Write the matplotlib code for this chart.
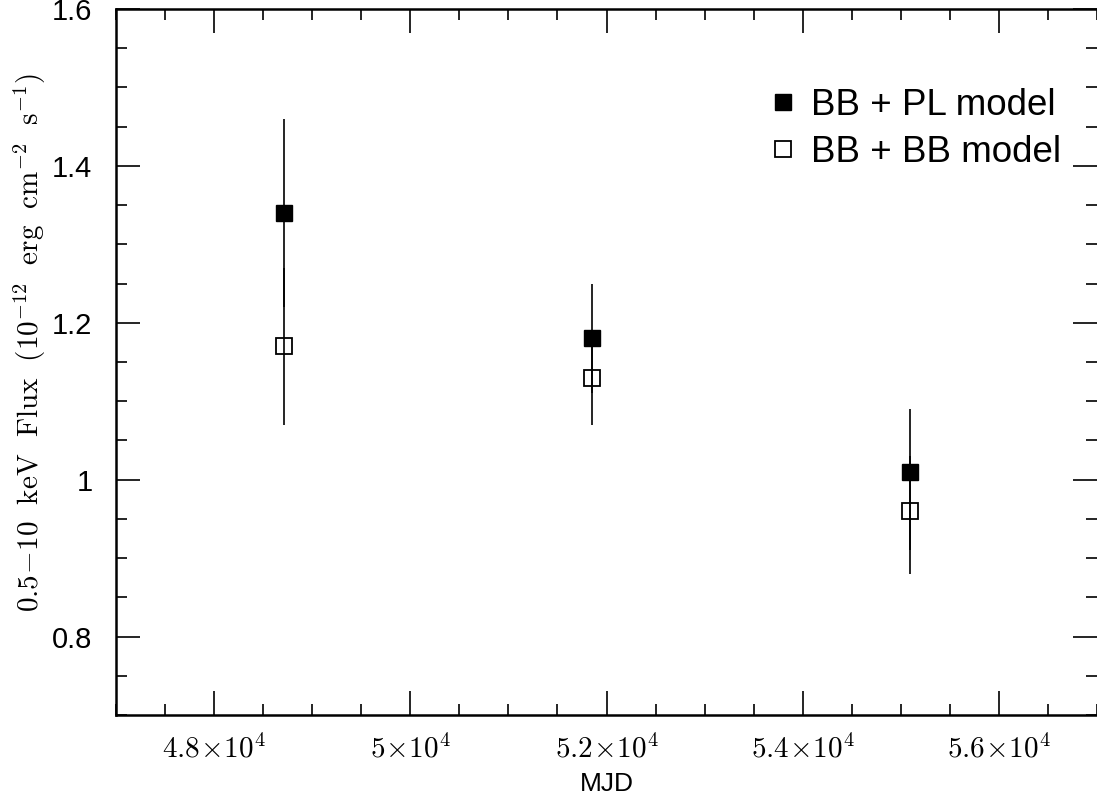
import matplotlib
matplotlib.use("Agg")
import matplotlib.pyplot as plt
from matplotlib.ticker import MultipleLocator, FuncFormatter

plt.rcParams['mathtext.fontset'] = 'cm'

mjd = [48710, 51855, 55090]
flux_bbpl = [1.34, 1.18, 1.01]
err_lo_bbpl = [0.12, 0.07, 0.10]
err_hi_bbpl = [0.12, 0.07, 0.08]
flux_bbbb = [1.17, 1.13, 0.96]
err_lo_bbbb = [0.10, 0.06, 0.08]
err_hi_bbbb = [0.10, 0.05, 0.07]

fig = plt.figure(figsize=(10.97, 8.01), dpi=100)
ax = fig.add_axes([116/1097, 1-715/801, 981/1097, (715-9)/801])

ax.errorbar(mjd, flux_bbpl, yerr=[err_lo_bbpl, err_hi_bbpl], fmt='none',
            ecolor='black', elinewidth=1.2, capsize=0)
ax.errorbar(mjd, flux_bbbb, yerr=[err_lo_bbbb, err_hi_bbbb], fmt='none',
            ecolor='black', elinewidth=1.2, capsize=0)
ax.plot(mjd, flux_bbpl, 's', color='black', markersize=12, label='BB + PL model', zorder=3)
ax.plot(mjd, flux_bbbb, 's', markerfacecolor='none', markeredgecolor='black',
        markeredgewidth=1.3, markersize=12, label='BB + BB model', zorder=3)

ax.set_xlim(47000, 57000)
ax.set_ylim(0.7, 1.6)
ax.xaxis.set_major_locator(MultipleLocator(2000))
ax.xaxis.set_minor_locator(MultipleLocator(500))
ax.yaxis.set_major_locator(MultipleLocator(0.2))
ax.yaxis.set_minor_locator(MultipleLocator(0.05))

def xfmt(v, pos):
    m = v / 1e4
    s = ('%g' % m)
    return r'$\mathrm{%s}\!\times\!\mathrm{10}^{4}$' % s
ax.xaxis.set_major_formatter(FuncFormatter(xfmt))
ax.yaxis.set_major_formatter(FuncFormatter(lambda v, p: '%g' % round(v, 2)))

ax.tick_params(which='both', direction='in', top=True, right=True, width=1.2)
ax.tick_params(which='major', length=17)
ax.tick_params(which='minor', length=8)
ax.tick_params(axis='x', labelsize=21, pad=14)
ax.tick_params(axis='y', labelsize=21, pad=17)
for lbl in ax.get_yticklabels():
    lbl.set_family('Liberation Sans')

for s in ['left', 'bottom', 'top']:
    ax.spines[s].set_linewidth(1.8)
ax.spines['right'].set_visible(False)

ax.set_xlabel('MJD', fontsize=19, family='Liberation Sans', labelpad=6)
ax.set_ylabel(r'$\mathrm{0.5\!-\!10\ \ keV\ \ Flux\ \ (10^{-12}\ \ erg\ \ cm^{-2}\ \ s^{-1})}$',
              fontsize=21)
ax.yaxis.set_label_coords(-0.069, 0.528)

leg = ax.legend(loc='upper right', bbox_to_anchor=(0.978, 0.909), frameon=False,
                prop={'family': 'Liberation Sans', 'size': 26.5},
                handlelength=0.6, handletextpad=0.45, labelspacing=0.33, markerscale=1.0,
                borderaxespad=0)

fig.savefig('out.png', dpi=100)
